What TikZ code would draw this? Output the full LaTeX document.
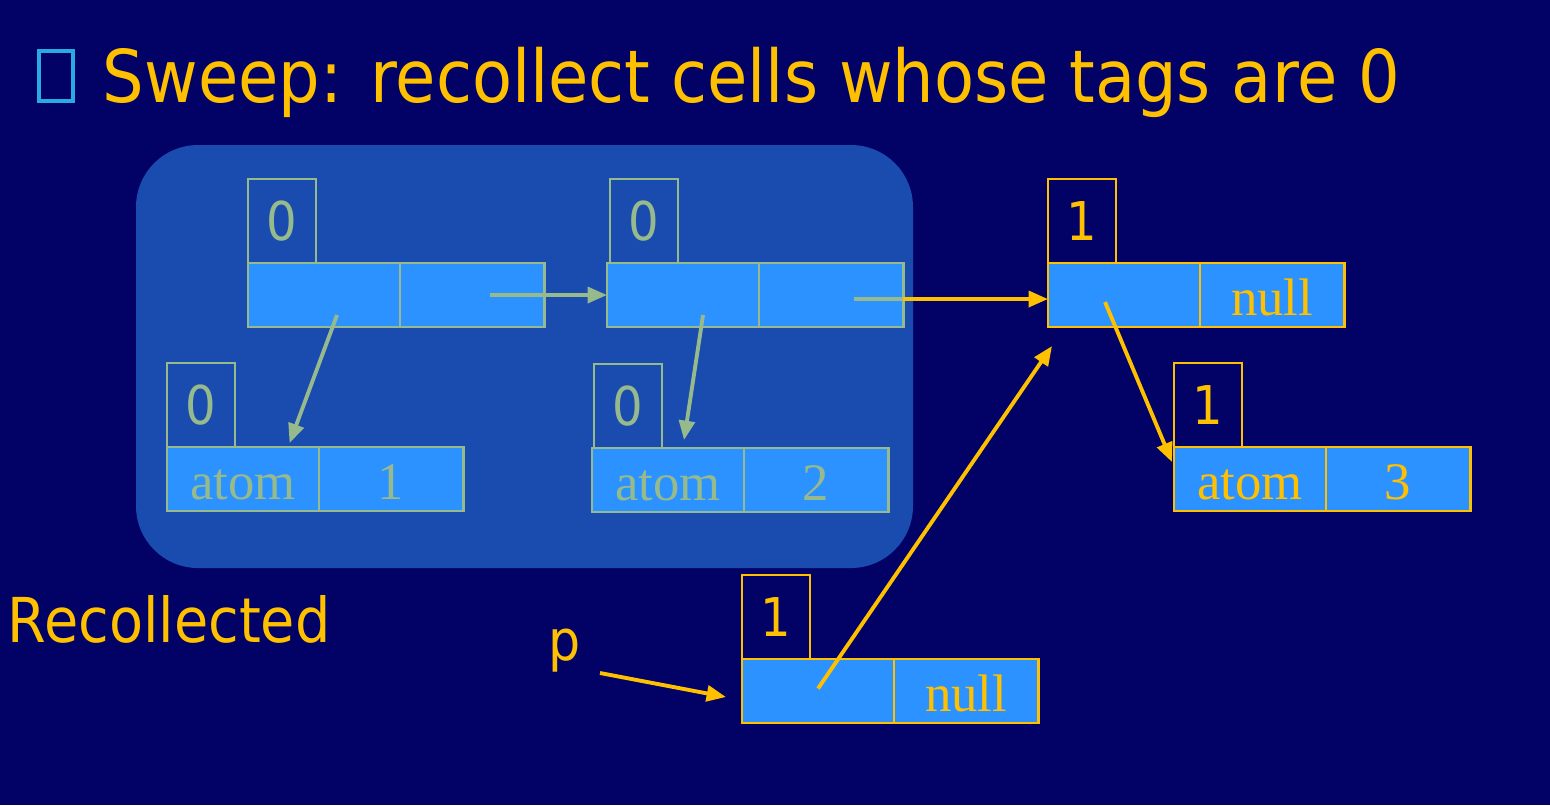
\documentclass[tikz,border=0pt]{standalone}
\usepackage{fontspec}
\setmainfont{Liberation Serif}
\newfontfamily\sans[FakeStretch=0.9]{DejaVu Sans}
\usetikzlibrary{arrows.meta}

\definecolor{bg}{RGB}{2,2,102}
\definecolor{region}{RGB}{26,76,176}
\definecolor{cellblue}{RGB}{44,146,255}
\definecolor{gold}{RGB}{255,192,0}
\definecolor{faded}{RGB}{150,186,140}
\definecolor{bulletcyan}{RGB}{41,171,226}

\tikzset{
  half/.style={draw, fill=cellblue, minimum height=0.64cm, inner sep=0pt, outer sep=0pt,
               line width=0.8pt, text height=11.6pt, text depth=0pt,
               font=\fontsize{15}{18}\selectfont},
  lhalf/.style={half, minimum width=1.52cm},
  rhalf/.style={half, minimum width=1.44cm},
  tagbox/.style={draw, minimum width=0.68cm, minimum height=0.84cm, inner sep=0pt, outer sep=0pt,
                 line width=0.8pt, font=\sans\fontsize{15.2}{18}\selectfont},
  live/.style={draw=gold, text=gold},
  dead/.style={draw=faded, text=faded},
  ptr/.style={line width=1.1pt, -{Triangle[length=5.5pt,width=4.5pt]}},
  label/.style={inner sep=0pt, outer sep=0pt, text=gold},
}

\begin{document}
\begin{tikzpicture}[x=0.01cm, y=-0.01cm]
  % page
  \fill[bg] (0,0) rectangle (1550,805);
  \useasboundingbox (0,0) rectangle (1550,805);

  % heading
  \draw[bulletcyan, line width=1pt] (39,51) rectangle (73,101);
  \node[label, anchor=base west, font=\sans\fontsize{20.7}{24}\selectfont] (title) at (103,102)
    {Sweep: recollect cells whose tags are 0};

  % area of cells that are reclaimed
  \fill[region, rounded corners=0.62cm] (136,145) rectangle (913,568);

  % reclaimed cells
  \node[lhalf, dead, anchor=north west] (a1) at (248,263) {};
  \node[rhalf, dead, anchor=west] (a2) at (a1.east) {};
  \node[tagbox, dead, anchor=south west] (a0) at (a1.north west) {0};

  \node[lhalf, dead, anchor=north west] (b1) at (607,263) {};
  \node[rhalf, dead, anchor=west] (b2) at (b1.east) {};
  \node[tagbox, dead, anchor=south west] (b0) at ([xshift=0.03cm]b1.north west) {0};

  \node[lhalf, dead, anchor=north west] (p1) at (167,447) {atom};
  \node[rhalf, dead, anchor=west] (p2) at (p1.east) {1};
  \node[tagbox, dead, anchor=south west] (p0) at (p1.north west) {0};

  \node[lhalf, dead, anchor=north west] (q1) at (592,448) {atom};
  \node[rhalf, dead, anchor=west] (q2) at (q1.east) {2};
  \node[tagbox, dead, anchor=south west] (q0) at ([xshift=0.02cm]q1.north west) {0};

  % live cells
  \node[lhalf, live, anchor=north west] (c1) at (1048,263) {};
  \node[rhalf, live, anchor=west] (c2) at (c1.east) {null};
  \node[tagbox, live, anchor=south west] (c0) at (c1.north west) {1};

  \node[lhalf, live, anchor=north west] (r1) at (1174,447) {atom};
  \node[rhalf, live, anchor=west] (r2) at (r1.east) {3};
  \node[tagbox, live, anchor=south west] (r0) at (r1.north west) {1};

  \node[lhalf, live, anchor=north west] (d1) at (742,659) {};
  \node[rhalf, live, anchor=west] (d2) at (d1.east) {null};
  \node[tagbox, live, anchor=south west] (d0) at (d1.north west) {1};

  % side labels
  \node[label, anchor=base west, font=\sans\fontsize{17.6}{21}\selectfont] (recl) at (8,642) {Recollected};
  \node[label, anchor=base west, font=\sans\fontsize{16}{19}\selectfont] (pvar) at (548,660) {p};
  \coordinate (pfrom) at (600,673);
  \coordinate (cnear) at ([shift={(0.04cm,-0.19cm)}]c1.south west);

  % pointers inside the reclaimed area
  \draw[ptr, faded] ([shift={(0.13cm,-0.2cm)}]a1.center) -- ([shift={(0.465cm,0.04cm)}]p1.north);
  \draw[ptr, faded] ([xshift=0.175cm]a2.center) -- (b1.west);
  \draw[ptr, faded] ([shift={(0.2cm,-0.2cm)}]b1.center) -- ([shift={(0.16cm,0.08cm)}]q1.north);
  \draw[faded, line width=1.1pt] ([shift={(0.23cm,-0.04cm)}]b2.center) -- ([yshift=-0.04cm]b2.east);

  % live pointers
  \draw[ptr, gold] ([yshift=-0.04cm]b2.east) -- ([yshift=-0.04cm]c1.west);
  \draw[ptr, gold] ([shift={(-0.19cm,-0.07cm)}]c1.center) -- ([shift={(-0.02cm,0.17cm)}]r1.west);
  \draw[ptr, gold] ([yshift=0.025cm]d1.center) -- (cnear);
  \draw[ptr, gold] (pfrom) -- ([shift={(-0.16cm,-0.06cm)}]d1.west);
\end{tikzpicture}
\end{document}
